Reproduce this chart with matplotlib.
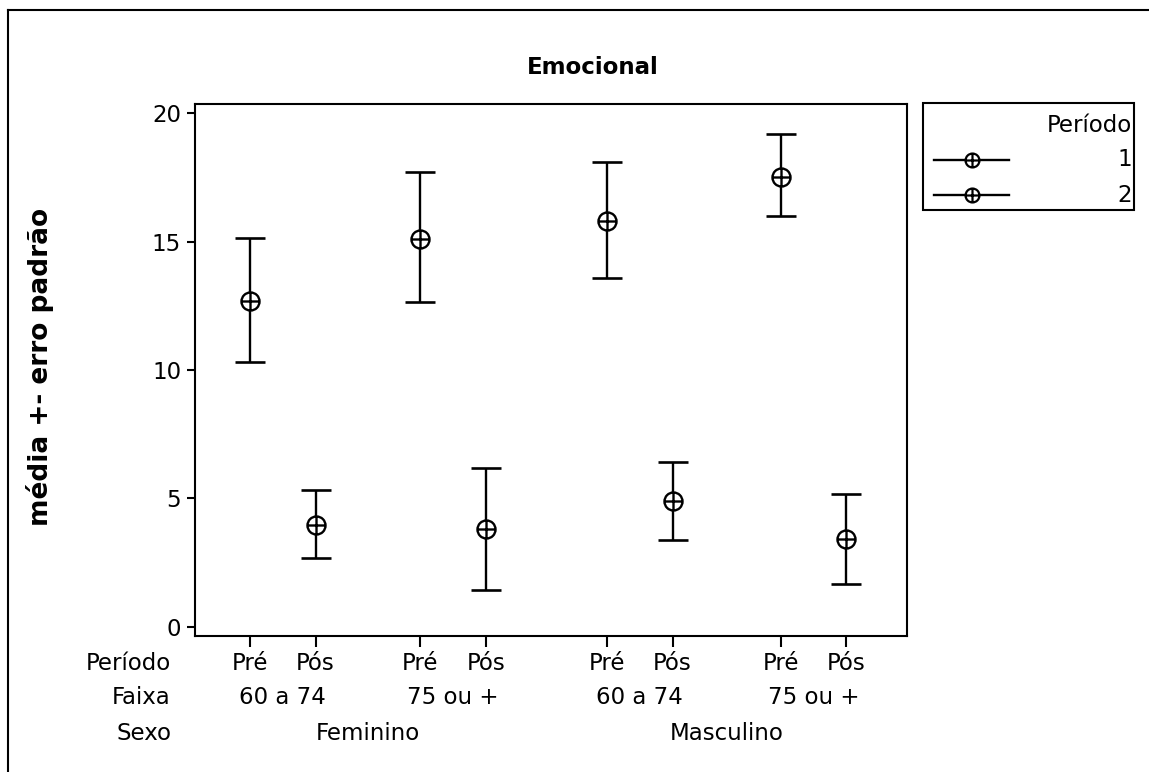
import matplotlib
matplotlib.use("Agg")
import matplotlib.pyplot as plt
import numpy as np
from matplotlib.path import Path
from matplotlib.lines import Line2D
from matplotlib import transforms

# ---- data ----
periodo_labels = ["Pré", "Pós", "Pré", "Pós", "Pré", "Pós", "Pré", "Pós"]
faixa_labels = ["60 a 74", "75 ou +", "60 a 74", "75 ou +"]
sexo_labels = ["Feminino", "Masculino"]
legend_labels = ["1", "2"]

# Período 1 (Pré) : mean, lower, upper
pre_mean = [12.70, 15.10, 15.82, 17.52]
pre_low = [10.31, 12.65, 13.58, 16.00]
pre_high = [15.16, 17.71, 18.10, 19.19]
# Período 2 (Pós)
pos_mean = [3.96, 3.81, 4.90, 3.42]
pos_low = [2.66, 1.43, 3.37, 1.65]
pos_high = [5.33, 6.17, 6.42, 5.17]

title = "Emocional"
ylabel = "média +- erro padrão"

# ---- layout ----
W, H = 1149, 772
fig = plt.figure(figsize=(W / 100, H / 100), dpi=100)
plt.rcParams['font.family'] = ['DejaVu Sans']
FS = 16.5

ax_l, ax_r, ax_t, ax_b = 195, 907, 104, 636
ax = fig.add_axes([ax_l / W, 1 - ax_b / H, (ax_r - ax_l) / W, (ax_b - ax_t) / H])

pos_x = np.array([0, 1, 2.6, 3.6, 5.45, 6.45, 8.1, 9.1])
pre_x = pos_x[0::2]
post_x = pos_x[1::2]

# circle-plus marker
circ = Path.unit_circle()
verts = list(circ.vertices) + [(-1, 0), (1, 0), (0, -1), (0, 1)]
codes = list(circ.codes) + [Path.MOVETO, Path.LINETO, Path.MOVETO, Path.LINETO]
oplus = Path(verts, codes)

def draw(xs, m, lo, hi, label):
    m = np.array(m); lo = np.array(lo); hi = np.array(hi)
    ax.errorbar(xs, m, yerr=[m - lo, hi - m], fmt='none', ecolor='black',
                elinewidth=1.7, capsize=10.5, capthick=1.9, zorder=2)
    ax.plot(xs, m, linestyle='none', marker=oplus, markersize=13,
            markerfacecolor='white', markeredgecolor='black',
            markeredgewidth=1.7, zorder=3, label=label)

draw(pre_x, pre_mean, pre_low, pre_high, legend_labels[0])
draw(post_x, pos_mean, pos_low, pos_high, legend_labels[1])

ax.set_xlim(-0.84, 10.03)
ax.set_ylim(-0.36, 20.36)
ax.set_yticks([0, 5, 10, 15, 20])
ax.tick_params(axis='y', labelsize=FS, length=6, width=1.5, direction='out', pad=4)
ax.set_xticks(pos_x)
ax.set_xticklabels([])
ax.tick_params(axis='x', length=8, width=1.5, direction='out')
for s in ax.spines.values():
    s.set_linewidth(1.5)

def fx(px): return px / W
def fy(py): return 1 - py / H

fig.text(fx(593), fy(68), title, fontsize=FS, fontweight='bold', ha='center', va='center')
fig.text(fx(40), fy(367), ylabel, rotation=90, fontsize=19,
         fontweight='bold', ha='center', va='center')

# hierarchical x labels
tr = transforms.blended_transform_factory(ax.transData, fig.transFigure)
row_y = [fy(663), fy(698), fy(733)]
for x, lab in zip(pos_x, periodo_labels):
    ax.text(x, row_y[0], lab, transform=tr, ha='center', va='center', fontsize=FS)
for i, lab in enumerate(faixa_labels):
    ax.text((pos_x[2 * i] + pos_x[2 * i + 1]) / 2, row_y[1], lab, transform=tr,
            ha='center', va='center', fontsize=FS)
for i, lab in enumerate(sexo_labels):
    ax.text((pos_x[4 * i] + pos_x[4 * i + 3]) / 2, row_y[2], lab, transform=tr,
            ha='center', va='center', fontsize=FS)
for lab, y in zip(["Período", "Faixa", "Sexo"], row_y):
    fig.text(fx(171), y, lab, ha='right', va='center', fontsize=FS)

# legend (manual box in figure pixels)
fig.add_artist(plt.Rectangle((fx(923), fy(210)), fx(1134) - fx(923), fy(103) - fy(210),
                             transform=fig.transFigure, fill=False, edgecolor='black',
                             linewidth=1.5))
fig.text(fx(1132), fy(125), "Período", ha='right', va='center', fontsize=FS)
for lab, yy in zip(legend_labels, [160, 195]):
    fig.add_artist(Line2D([fx(934), fx(1009)], [fy(yy), fy(yy)], color='black',
                          linewidth=1.7, transform=fig.transFigure))
    fig.add_artist(Line2D([fx(972)], [fy(yy)], marker=oplus, markersize=10,
                          markerfacecolor='white', markeredgecolor='black',
                          markeredgewidth=1.6, linestyle='none',
                          transform=fig.transFigure))
    fig.text(fx(1132), fy(yy), lab, ha='right', va='center', fontsize=FS)

# figure frame
fig.add_artist(Line2D([fx(8), fx(1149)], [fy(10), fy(10)], color='black', linewidth=1.5,
                      transform=fig.transFigure))
fig.add_artist(Line2D([fx(8), fx(8)], [fy(10), fy(772)], color='black', linewidth=1.5,
                      transform=fig.transFigure))

fig.savefig("out.png", dpi=100)
